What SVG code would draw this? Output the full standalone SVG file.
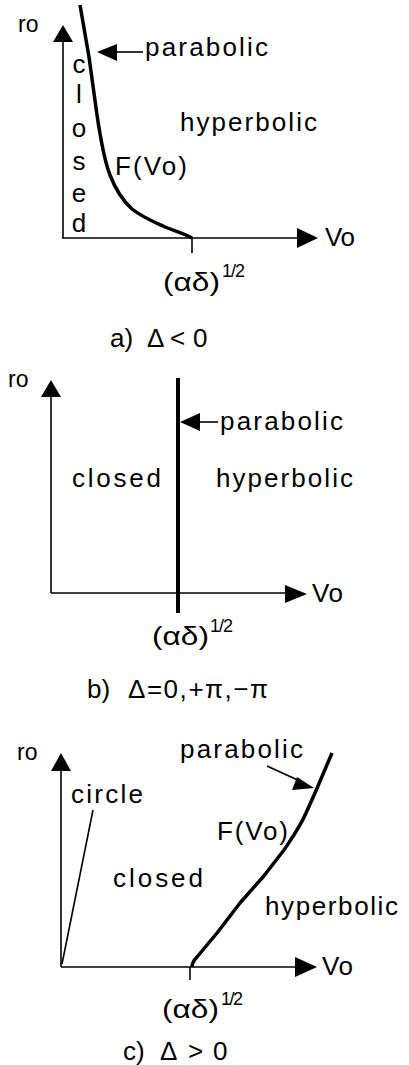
<svg xmlns="http://www.w3.org/2000/svg" width="409" height="1065" viewBox="0 0 409 1065">
<style>
text{font-family:"Liberation Sans",Arial,sans-serif;font-size:26px;fill:#000}
.sm{font-size:23px}
.sup{font-size:18px}
.ax{stroke:#000;stroke-width:1.6;fill:none}
.cv{stroke:#000;stroke-width:3.5;fill:none;stroke-linejoin:round;stroke-linecap:butt}
.hd{fill:#000;stroke:none}
</style>
<rect width="409" height="1065" fill="#fff"/>
<g id="connectors">
  <!-- panel a -->
  <line class="ax" x1="63" y1="238" x2="63" y2="40"/>
  <polygon class="hd" points="63,25 53,42 73,42"/>
  <line class="ax" x1="62" y1="238" x2="300" y2="238"/>
  <polygon class="hd" points="318,238 297,228 297,248"/>
  <line class="ax" x1="192" y1="238" x2="192" y2="253"/>
  <path class="cv" d="M80,5 L89,57 L97,115 C100,135 104,160 110,175 C115,188 122,200 132,209 C142,217 152,221 165,227 C175,231 185,234 192,238"/>
  <line class="ax" x1="143" y1="52" x2="112" y2="52"/>
  <polygon class="hd" points="97,52 117,44 117,61"/>
  <!-- panel b -->
  <line class="ax" x1="51" y1="593" x2="51" y2="395"/>
  <polygon class="hd" points="51,380 41,397 61,397"/>
  <line class="ax" x1="51" y1="593" x2="290" y2="593"/>
  <polygon class="hd" points="307,594 285,585 285,603"/>
  <line stroke="#000" stroke-width="4" x1="178" y1="378" x2="178" y2="613"/>
  <line class="ax" x1="218" y1="422" x2="196" y2="422"/>
  <polygon class="hd" points="180,422 200,413 200,431"/>
  <!-- panel c -->
  <line class="ax" x1="61" y1="967" x2="61" y2="768"/>
  <polygon class="hd" points="61,753 51,771 71,771"/>
  <line class="ax" x1="61" y1="967" x2="300" y2="967"/>
  <polygon class="hd" points="317,967 295,957 295,977"/>
  <line class="ax" x1="190" y1="967" x2="190" y2="980"/>
  <line class="ax" x1="62" y1="964" x2="93" y2="810"/>
  <path class="cv" d="M192,967 C192,963 194,960 197,957 L217,933 L240,903 L263,877 L284,850 C292,838 300,827 306,813 L315,793 L332,753"/>
  <line class="ax" x1="267" y1="766" x2="302" y2="782"/>
  <polygon class="hd" points="314,788 297,777 292,790"/>
</g>
<g id="panel-a">
  <text id="a-ro" class="sm" x="18" y="32">ro</text>
  <text id="a-vo" x="325" y="246" textLength="30">Vo</text>
  <text id="a-parabolic" x="145" y="56" textLength="123">parabolic</text>
  <text id="a-hyperbolic" x="180" y="131" textLength="137">hyperbolic</text>
  <text id="a-F" x="115" y="175" textLength="72">F(Vo)</text>
  <g id="a-closed" text-anchor="middle">
    <text x="79" y="73">c</text>
    <text x="79" y="103">l</text>
    <text x="79" y="137">o</text>
    <text x="79" y="170">s</text>
    <text x="79" y="202">e</text>
    <text x="79" y="232">d</text>
  </g>
  <g id="a-root">
    <text x="163" y="291" textLength="57" lengthAdjust="spacingAndGlyphs">(αδ)</text>
    <text class="sup" x="222" y="277" textLength="23">1/2</text>
  </g>
  <text id="a-caption" y="347"><tspan x="110">a)</tspan><tspan x="147">Δ</tspan><tspan x="170">&lt;</tspan><tspan x="193">0</tspan></text>
</g>
<g id="panel-b">
  <text id="b-ro" class="sm" x="8" y="387">ro</text>
  <text id="b-vo" x="312" y="602" textLength="31">Vo</text>
  <text id="b-parabolic" x="220" y="430" textLength="123">parabolic</text>
  <text id="b-closed" x="72" y="487" textLength="89">closed</text>
  <text id="b-hyperbolic" x="216" y="487" textLength="137">hyperbolic</text>
  <g id="b-root">
    <text x="152" y="645" textLength="57" lengthAdjust="spacingAndGlyphs">(αδ)</text>
    <text class="sup" x="210" y="632" textLength="23">1/2</text>
  </g>
  <text id="b-caption" y="698"><tspan x="87">b)</tspan><tspan x="128" textLength="140">Δ=0,+π,−π</tspan></text>
</g>
<g id="panel-c">
  <text id="c-ro" class="sm" x="17" y="760">ro</text>
  <text id="c-vo" x="322" y="975" textLength="31">Vo</text>
  <text id="c-parabolic" x="180" y="758" textLength="123">parabolic</text>
  <text id="c-circle" x="71" y="803" textLength="72">circle</text>
  <text id="c-F" x="217" y="840" textLength="71">F(Vo)</text>
  <text id="c-closed" x="113" y="887" textLength="90">closed</text>
  <text id="c-hyperbolic" x="265" y="915" textLength="133">hyperbolic</text>
  <g id="c-root">
    <text x="162" y="1018" textLength="57" lengthAdjust="spacingAndGlyphs">(αδ)</text>
    <text class="sup" x="221" y="1005" textLength="22">1/2</text>
  </g>
  <text id="c-caption" y="1060"><tspan x="123">c)</tspan><tspan x="160">Δ</tspan><tspan x="188">&gt;</tspan><tspan x="213">0</tspan></text>
</g>
</svg>
